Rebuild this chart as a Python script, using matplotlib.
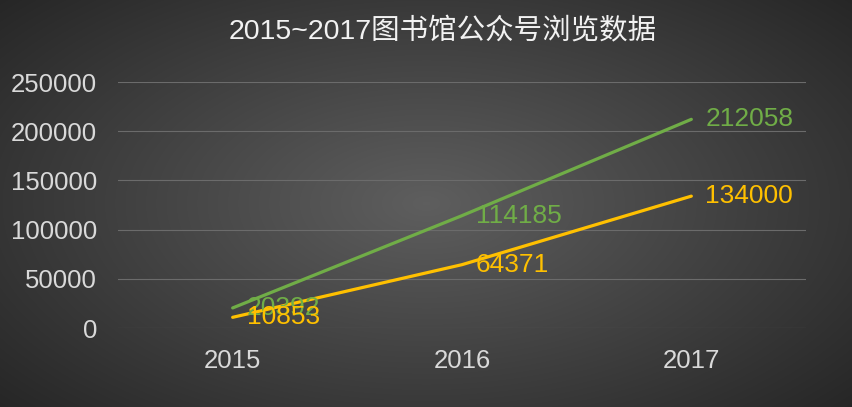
import matplotlib.pyplot as plt
import numpy as np

plt.rcParams['font.family'] = ['Liberation Sans', 'Noto Sans CJK SC', 'DejaVu Sans']

# 数据
years = ['2015', '2016', '2017']
green_vals = [20392, 114185, 212058]
orange_vals = [10853, 64371, 134000]
title = '2015~2017图书馆公众号浏览数据'

fig = plt.figure(figsize=(8.53, 4.07), dpi=100)

# 背景径向渐变
bg = fig.add_axes([0, 0, 1, 1])
yy, xx = np.mgrid[-1:1:407j, -1:1:853j]
r = np.sqrt(xx ** 2 + (yy * 0.9) ** 2)
r = np.clip(r / 1.35, 0, 1)
c = 0.37 - 0.22 * r
img = np.dstack([c, c, c])
bg.imshow(img, aspect='auto', extent=[0, 1, 0, 1])
bg.axis('off')

ax = fig.add_axes([118 / 853, 79 / 407, 688 / 853, 246 / 407])
ax.set_facecolor('none')
x = np.arange(len(years))
ax.plot(x, green_vals, color='#70AD47', lw=2.3, solid_capstyle='round')
ax.plot(x, orange_vals, color='#FFC000', lw=2.3, solid_capstyle='round')

for xi, v in zip(x, green_vals):
    ax.annotate(str(v), (xi, v), xytext=(10, 0), textcoords='offset points',
                color='#70AD47', fontsize=19, va='center', ha='left')
for xi, v in zip(x, orange_vals):
    ax.annotate(str(v), (xi, v), xytext=(10, 0), textcoords='offset points',
                color='#FFC000', fontsize=19, va='center', ha='left')

ax.set_xlim(-0.5, 2.5)
ax.set_ylim(0, 250000)
ax.set_yticks(np.arange(0, 250001, 50000))
ax.set_xticks(x)
ax.set_xticklabels(years)
ax.grid(axis='y', color='#6b6b6b', lw=0.8)
ax.set_axisbelow(True)
for s in ax.spines.values():
    s.set_visible(False)
ax.tick_params(length=0, colors='#d9d9d9', labelsize=18.5)
ax.tick_params(axis='y', pad=15)
ax.tick_params(axis='x', pad=15)

fig.text(443 / 853, 0.922, title, color='#f2f2f2', fontsize=20.5, ha='center', va='center')

fig.savefig('out.png', dpi=100)
